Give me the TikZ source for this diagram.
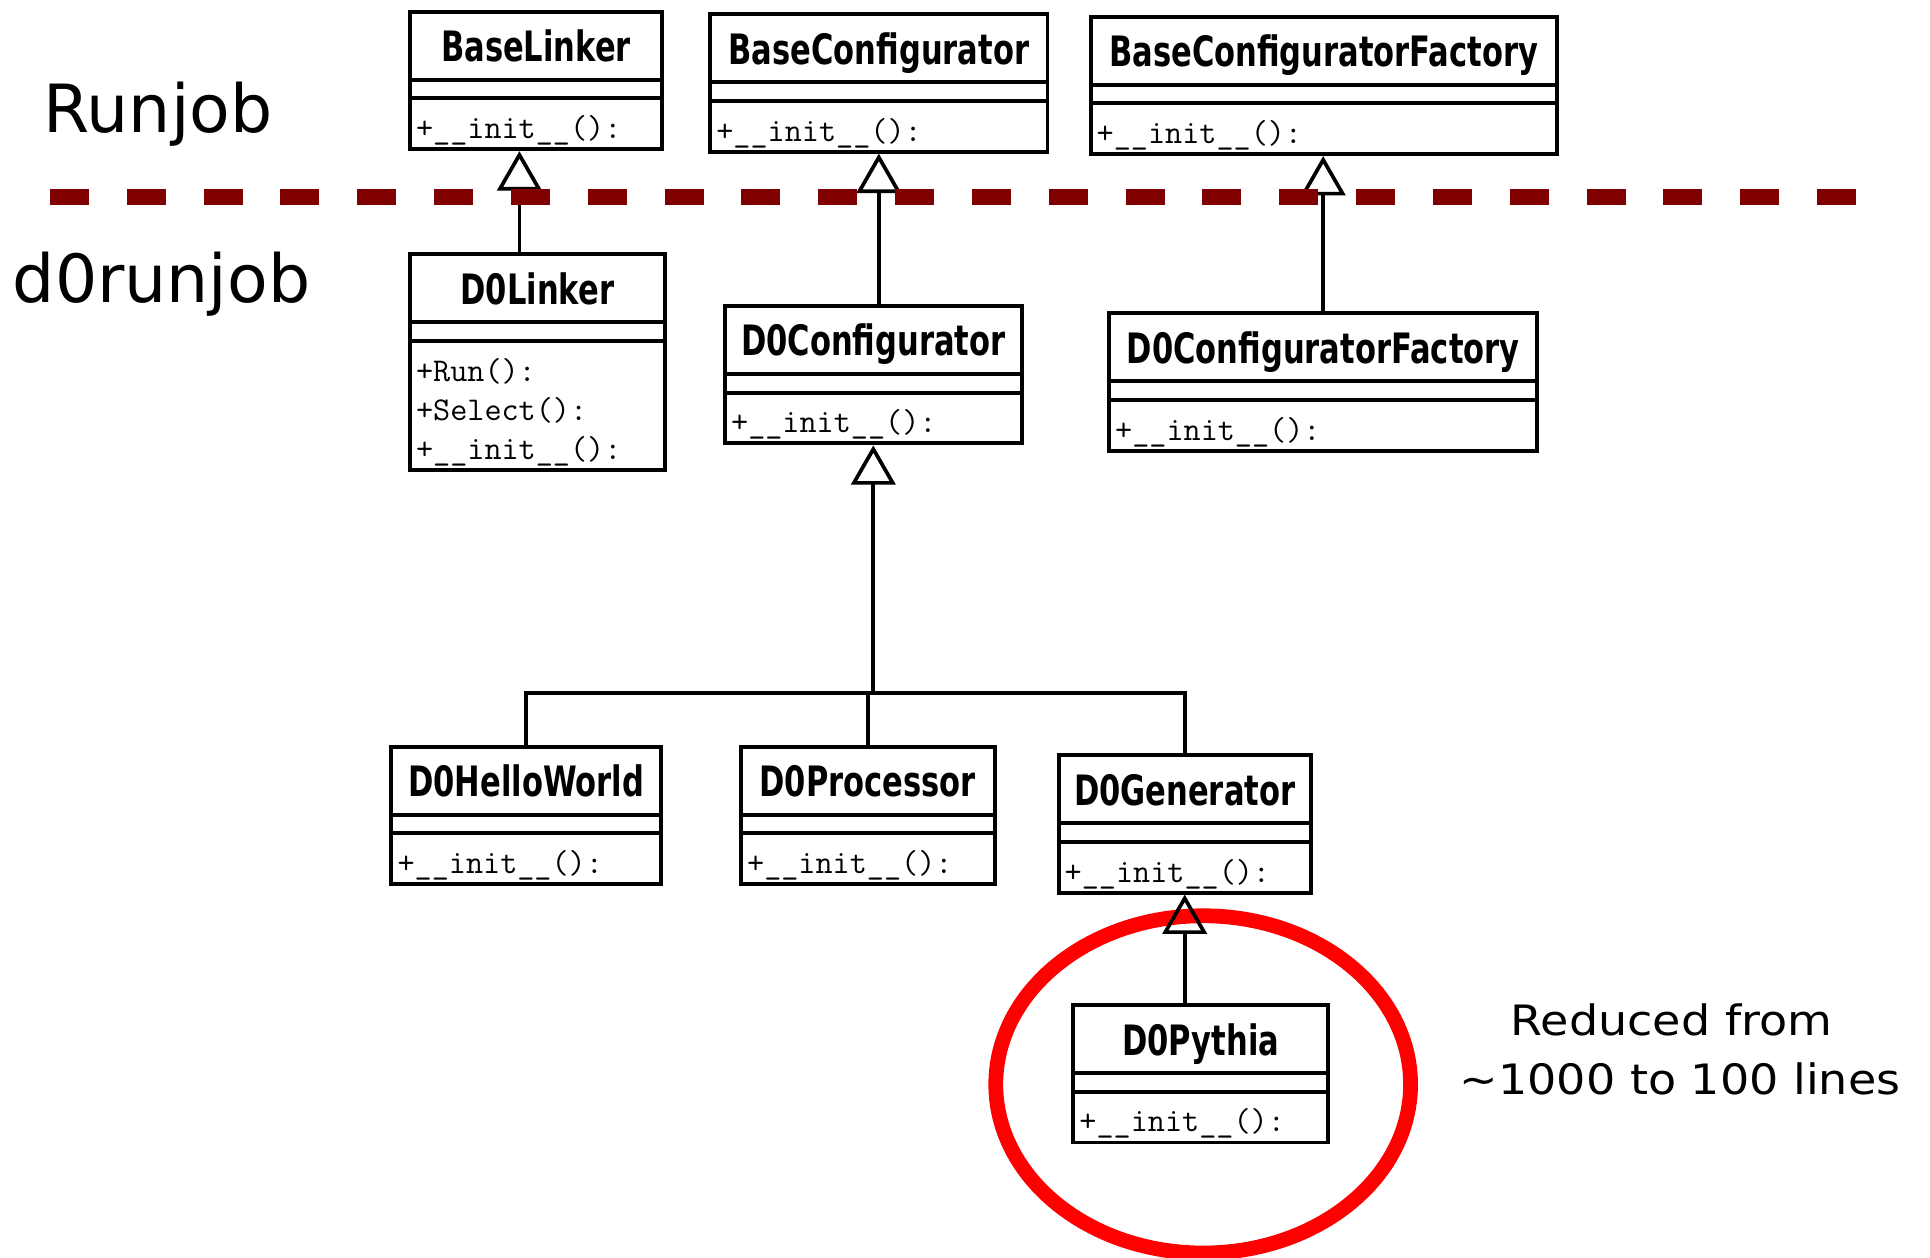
\documentclass[tikz,border=0pt]{standalone}
\usepackage{fontspec}
\setmainfont{DejaVu Sans}
\newfontfamily\classfont[FakeStretch=0.73]{DejaVu Sans}
\newfontfamily\notefont[FakeStretch=1.1]{DejaVu Sans}
\usetikzlibrary{shapes.multipart,arrows.meta}
\definecolor{layerred}{RGB}{128,0,0}
\setlength{\parindent}{0pt}
\setlength{\parskip}{0pt}
% compartments of a class box
\newcommand\cname[1]{\classfont\bfseries\fontsize{17}{20}\selectfont\hspace*{\fill}\rule[-6.5pt]{0pt}{26pt}#1\hspace*{\fill}\null\par}
\newcommand\gap{\rule{0pt}{6pt}\par}
\newcommand\ops{\ttfamily\fontsize{13.5}{16}\selectfont\rule{0pt}{15.5pt}}
\newcommand\opend{\rule[-3.5pt]{0pt}{3.5pt}\par}
\tikzset{
  umlclass/.style={rectangle split, rectangle split parts=3, draw,
    line width=1.6pt, inner xsep=2.5pt, inner ysep=0pt,
    text width=#1, align=left, anchor=north},
  isa/.style={line width=1.5pt, -{Triangle[open, width=18pt, length=16pt]}},
  link/.style={line width=1.5pt},
  layer/.style={anchor=base west, inner sep=0pt, font=\fontsize{27}{32}\selectfont},
  note/.style={anchor=base, inner sep=0pt, font=\notefont\fontsize{17}{20}\selectfont},
  layerline/.style={draw=layerred, line width=6.25pt, dash pattern=on 15.85pt off 15.36pt},
  highlight/.style={draw=red, line width=6pt}
}
\begin{document}
\begin{tikzpicture}[x=0.5pt, y=-0.5pt]
  \useasboundingbox (0,0) rectangle (1568,1022);
  \draw[highlight] (977.5,881) ellipse [x radius=84.25pt, y radius=68.5pt];
  % base classes
  \node[umlclass=97.5pt] (baselinker) at (435.5,8)
    {\cname{BaseLinker}\nodepart{two}\gap\nodepart{three}\ops+\_\_init\_\_():\opend};
  \node[umlclass=132pt] (baseconf) at (714,10)
    {\cname{BaseConfigurator}\nodepart{two}\gap\nodepart{three}\ops+\_\_init\_\_():\opend};
  \node[umlclass=184.5pt] (baseconffac) at (1075.5,12)
    {\cname{BaseConfiguratorFactory}\nodepart{two}\gap\nodepart{three}\ops+\_\_init\_\_():\opend};
  % d0 classes
  \node[umlclass=98.5pt] (d0linker) at (436.5,205)
    {\cname{D0Linker}\nodepart{two}\gap\nodepart{three}\ops+Run():\\+Select():\\+\_\_init\_\_():\opend};
  \node[umlclass=115.5pt] (d0config) at (709.5,247)
    {\cname{D0Configurator}\nodepart{two}\gap\nodepart{three}\ops+\_\_init\_\_():\opend};
  \node[umlclass=169pt] (d0conffac) at (1075,253)
    {\cname{D0ConfiguratorFactory}\nodepart{two}\gap\nodepart{three}\ops+\_\_init\_\_():\opend};
  \node[umlclass=104.5pt] (d0hello) at (427.5,605)
    {\cname{D0HelloWorld}\nodepart{two}\gap\nodepart{three}\ops+\_\_init\_\_():\opend};
  \node[umlclass=98pt] (d0proc) at (705,605)
    {\cname{D0Processor}\nodepart{two}\gap\nodepart{three}\ops+\_\_init\_\_():\opend};
  \node[umlclass=97.5pt] (d0gen) at (962.5,612)
    {\cname{D0Generator}\nodepart{two}\gap\nodepart{three}\ops+\_\_init\_\_():\opend};
  \node[umlclass=98.5pt] (d0pythia) at (975.5,815)
    {\cname{D0Pythia}\nodepart{two}\gap\nodepart{three}\ops+\_\_init\_\_():\opend};
  % inheritance
  \coordinate (fork) at (709.5,563);
  \draw[isa] (d0linker.north -| 422,0) -- (baselinker.south -| 422,0);
  \draw[isa] (d0config.north -| baseconf.south) -- (baseconf.south);
  \draw[isa] (d0conffac.north) -- (d0conffac.north |- baseconffac.south);
  \draw[isa] (fork) -- (d0config.south);
  \draw[link] (d0hello.north) |- (fork) -| (d0gen.north);
  \draw[link] (d0proc.north) -- (d0proc.north |- fork);
  \draw[isa] (d0pythia.north -| d0gen.south) -- (d0gen.south);
  % layers
  \node[layer] (runjob) at (35,108) {Runjob};
  \node[layer] (d0runjob) at (10,246) {d0runjob};
  \draw[layerline] (40.6,160) -- (1508,160);
  \node[note] (note1) at (1358,841.5) {Reduced from};
  \node[note] (note2) at (1365,889) {\textasciitilde1000 to 100 lines};
\end{tikzpicture}
\end{document}
